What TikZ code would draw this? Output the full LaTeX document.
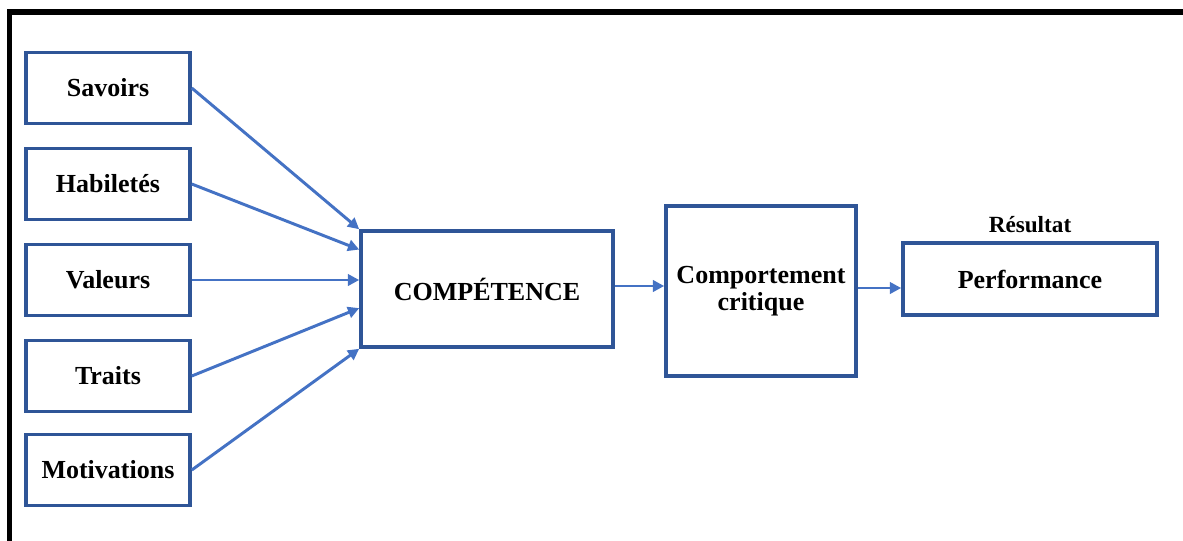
\documentclass[tikz,border=0pt]{standalone}
\usepackage{fontspec}
\setmainfont{Liberation Serif}
\usetikzlibrary{arrows.meta,calc}
\definecolor{boxblue}{RGB}{47,85,151}
\definecolor{arrowblue}{RGB}{68,114,196}
\tikzset{
  factor/.style={draw=boxblue, line width=2.5pt, minimum width=4.1cm, minimum height=1.78cm,
    font=\bfseries\fontsize{18.5pt}{19.5pt}\selectfont},
  link/.style={draw=arrowblue, line width=2.1pt, -{Triangle[length=8pt,width=8pt]}}
}
\begin{document}
\begin{tikzpicture}[x=0.025cm, y=-0.025cm]
    \useasboundingbox (0,0) rectangle (1183,540);
    % Draw the frame
    \draw[line width=5.5*0.025cm, line join=miter] (9.5,545) -- (9.5,12) -- (1190,12);

    % Draw the factors
    \node[factor] (savoirs) at (108,88) {Savoirs};
    \node[factor] (habiletes) at (108,184) {Habiletés};
    \node[factor] (valeurs) at (108,280) {Valeurs};
    \node[factor] (traits) at (108,376) {Traits};
    \node[factor] (motivations) at (108,470) {Motivations};

    \node[factor, minimum width=6.3cm, minimum height=2.9cm] (comp) at (487,289) {COMPÉTENCE};
    \node[factor, minimum width=4.75cm, minimum height=4.25cm, align=center] (crit) at (761,291) {Comportement\\critique};
    \node[factor, minimum width=6.35cm, minimum height=1.8cm] (perf) at (1030,279) {Performance};
    \node[font=\bfseries\fontsize{16.5pt}{18pt}\selectfont] (result) at (1030,225) {Résultat};

    % Draw the arrows
    \draw[link] (savoirs.east) -- (comp.north west);
    \draw[link] (habiletes.east) -- ($(comp.north west)!0.17!(comp.south west)$);
    \draw[link] (valeurs.east) -- (valeurs.east -| comp.west);
    \draw[link] (traits.east) -- ($(comp.north west)!0.66!(comp.south west)$);
    \draw[link] (motivations.east) -- (comp.south west);
    \draw[link] ($(comp.east)+(0,-3)$) -- ($(comp.east -| crit.west)+(0,-3)$);
    \draw[link] ($(crit.east)+(0,-3)$) -- ($(crit.east -| perf.west)+(0,-3)$);
\end{tikzpicture}
\end{document}
